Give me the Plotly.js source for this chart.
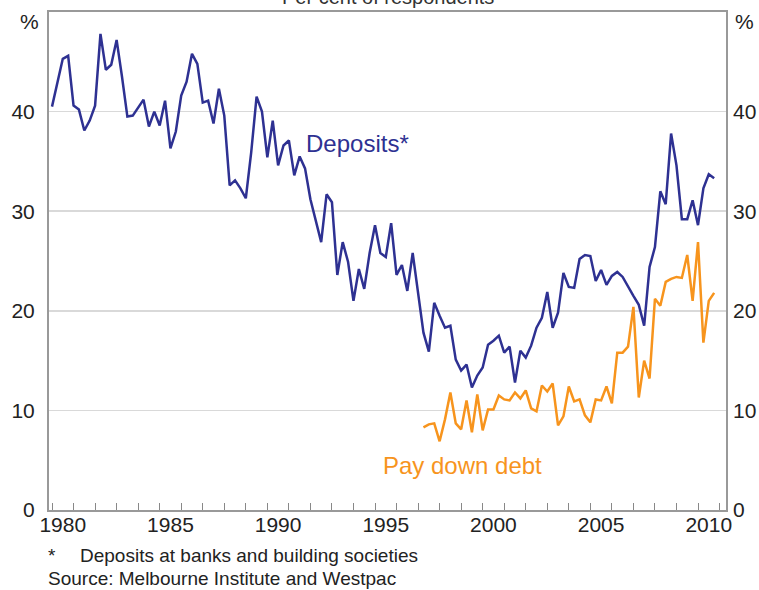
<!DOCTYPE html>
<html><head><meta charset="utf-8">
<script src="https://cdn.plot.ly/plotly-3.0.1.min.js"></script>
<style>html,body{margin:0;padding:0;background:#fff}#chart{width:759px;height:590px}</style>
</head><body><div id="chart"></div>
<script>
// Quarterly survey, first observation 1980 Q1
const firstPeriod = 1980.0;
const periodStep = 0.25;

const deposits = [
  40.5, 43.0, 45.3, 45.6, 40.6, 40.2, 38.1, 39.1, 40.6, 47.8,
  44.2, 44.7, 47.2, 43.5, 39.5, 39.6, 40.4, 41.2, 38.5, 40.0,
  38.6, 41.1, 36.3, 38.0, 41.6, 43.0, 45.8, 44.8, 40.9, 41.1,
  38.8, 42.3, 39.6, 32.6, 33.1, 32.3, 31.3, 35.9, 41.5, 40.0,
  35.4, 39.1, 34.6, 36.6, 37.1, 33.6, 35.5, 34.3, 31.2, 29.0,
  26.9, 31.7, 30.9, 23.6, 26.9, 24.9, 21.0, 24.2, 22.2, 25.8,
  28.6, 25.8, 25.4, 28.8, 23.6, 24.6, 22.0, 25.8, 22.0, 17.8,
  15.9, 20.8, 19.5, 18.3, 18.5, 15.1, 14.0, 14.6, 12.3, 13.5,
  14.3, 16.6, 17.0, 17.5, 15.8, 16.4, 12.8, 16.0, 15.3, 16.5,
  18.3, 19.3, 21.9, 18.3, 19.8, 23.8, 22.4, 22.3, 25.2, 25.6,
  25.5, 23.0, 24.1, 22.6, 23.5, 23.9, 23.4, 22.4, 21.5, 20.6,
  18.5, 24.4, 26.4, 32.0, 30.7, 37.8, 34.6, 29.2, 29.2, 31.1,
  28.6, 32.3, 33.7, 33.3
];

// Pay down debt series begins at observation 69 (1997 Q2)
const payDownDebtFirstObs = 69;
const payDownDebt = [
  8.3, 8.6, 8.7, 6.9, 9.1, 11.8, 8.7, 8.1, 11.0, 7.8,
  11.6, 8.0, 10.1, 10.1, 11.5, 11.1, 11.0, 11.8, 11.2, 12.0,
  10.2, 9.9, 12.5, 11.9, 12.7, 8.5, 9.4, 12.4, 10.9, 11.1,
  9.5, 8.8, 11.1, 11.0, 12.4, 10.7, 15.8, 15.8, 16.4, 20.4,
  11.3, 15.0, 13.2, 21.2, 20.5, 22.9, 23.2, 23.4, 23.3, 25.6,
  21.0, 26.9, 16.8, 21.0, 21.8
];

const yearTicks = [1980,1981,1982,1983,1984,1985,1986,1987,1988,1989,1990,1991,1992,1993,1994,1995,1996,1997,1998,1999,2000,2001,2002,2003,2004,2005,2006,2007,2008,2009,2010,2011];
const yearLabels = [1980,1985,1990,1995,2000,2005,2010];
const yTickVals = [0,10,20,30,40];

const depX = deposits.map((_, i) => firstPeriod + i * periodStep);
const debtX = payDownDebt.map((_, j) => firstPeriod + (payDownDebtFirstObs + j) * periodStep);

const xRange = [1979.86, 2011.3];
const yRange = [0, 50];
const font = 'Arial, "Liberation Sans", Helvetica, sans-serif';
const blue = '#2e3192';
const orange = '#f7941d';

const data = [
  {x: depX, y: deposits, type: 'scatter', mode: 'lines', xaxis: 'x', yaxis: 'y',
   line: {color: blue, width: 2.5}, hoverinfo: 'skip'},
  {x: debtX, y: payDownDebt, type: 'scatter', mode: 'lines', xaxis: 'x2', yaxis: 'y2',
   line: {color: orange, width: 2.5}, hoverinfo: 'skip'}
];

const layout = {
  width: 759, height: 590,
  margin: {l: 49, r: 33, t: 12, b: 80},
  paper_bgcolor: '#fff', plot_bgcolor: '#fff',
  showlegend: false,
  font: {family: font, color: '#222', size: 21},
  xaxis: {
    range: xRange, tickmode: 'array', tickvals: yearTicks, showticklabels: false,
    ticks: 'inside', ticklen: 7, tickcolor: '#888', tickwidth: 1,
    showgrid: false, zeroline: false,
    showline: true, linecolor: '#999', linewidth: 2, mirror: true
  },
  xaxis2: {
    range: xRange, overlaying: 'x', anchor: 'y', side: 'bottom',
    tickmode: 'array', tickvals: yearLabels.map(y => y + 0.5), ticktext: yearLabels.map(String),
    ticks: '', showgrid: false, zeroline: false, showline: false,
    tickfont: {family: font, size: 21, color: '#222'}
  },
  yaxis: {
    range: yRange, tickmode: 'array', tickvals: yTickVals, ticktext: yTickVals.map(String),
    ticks: '', showgrid: true, gridcolor: '#d9d9d9', gridwidth: 1.5,
    zeroline: false, showline: true, linecolor: '#999', linewidth: 2, mirror: true,
    tickfont: {family: font, size: 21, color: '#222'}, ticklabelstandoff: 8
  },
  yaxis2: {
    range: yRange, overlaying: 'y', side: 'right', anchor: 'x',
    tickmode: 'array', tickvals: yTickVals, ticktext: yTickVals.map(String),
    ticks: '', showgrid: false, zeroline: false, showline: false,
    tickfont: {family: font, size: 21, color: '#222'}, ticklabelstandoff: 6
  },
  annotations: [
    {text: 'Per cent of respondents', xref: 'paper', yref: 'paper', x: 0.5, y: 1.005,
     xanchor: 'center', yanchor: 'bottom', showarrow: false,
     font: {family: font, size: 20, color: '#333'}},
    {text: '%', xref: 'paper', yref: 'paper', x: -0.012, y: 0.98, xanchor: 'right', yanchor: 'middle',
     showarrow: false, font: {family: font, size: 21, color: '#222'}},
    {text: '%', xref: 'paper', yref: 'paper', x: 1.011, y: 0.98, xanchor: 'left', yanchor: 'middle',
     showarrow: false, font: {family: font, size: 21, color: '#222'}},
    {text: 'Deposits*', xref: 'x', yref: 'y', x: 1991.7, y: 36.8, xanchor: 'left', yanchor: 'middle',
     showarrow: false, font: {family: font, size: 24, color: blue}},
    {text: 'Pay down debt', xref: 'x', yref: 'y', x: 1995.3, y: 4.5, xanchor: 'left', yanchor: 'middle',
     showarrow: false, font: {family: font, size: 24, color: orange}},
    {text: '*', xref: 'paper', yref: 'paper', x: -0.005, y: -0.092, xanchor: 'left', yanchor: 'middle',
     showarrow: false, font: {family: font, size: 19, color: '#222'}},
    {text: 'Deposits at banks and building societies', xref: 'paper', yref: 'paper', x: 0.043, y: -0.092,
     xanchor: 'left', yanchor: 'middle', showarrow: false, font: {family: font, size: 19, color: '#222'}},
    {text: 'Source: Melbourne Institute and Westpac', xref: 'paper', yref: 'paper', x: -0.005, y: -0.137,
     xanchor: 'left', yanchor: 'middle', showarrow: false, font: {family: font, size: 19, color: '#222'}}
  ]
};

Plotly.newPlot('chart', data, layout, {staticPlot: true, displayModeBar: false});
</script>
</body></html>
